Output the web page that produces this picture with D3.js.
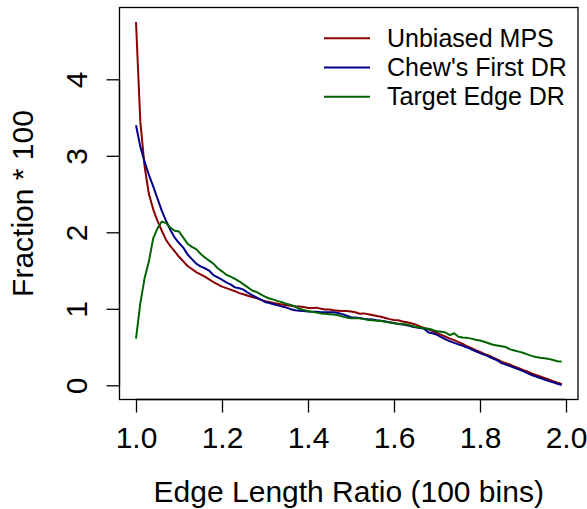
<!DOCTYPE html>
<html><head><meta charset="utf-8">
<script src="https://cdn.jsdelivr.net/npm/d3@7"></script>
<style>body{margin:0;background:#fff}text{font-family:"Liberation Sans",Arial,sans-serif}</style>
</head><body>
<svg id="c" width="587" height="509"></svg>
<script>
const bins = [1.00,1.01,1.02,1.03,1.04,1.05,1.06,1.07,1.08,1.09,1.10,1.11,1.12,1.13,1.14,1.15,1.16,1.17,1.18,1.19,1.20,1.21,1.22,1.23,1.24,1.25,1.26,1.27,1.28,1.29,1.30,1.31,1.32,1.33,1.34,1.35,1.36,1.37,1.38,1.39,1.40,1.41,1.42,1.43,1.44,1.45,1.46,1.47,1.48,1.49,1.50,1.51,1.52,1.53,1.54,1.55,1.56,1.57,1.58,1.59,1.60,1.61,1.62,1.63,1.64,1.65,1.66,1.67,1.68,1.69,1.70,1.71,1.72,1.73,1.74,1.75,1.76,1.77,1.78,1.79,1.80,1.81,1.82,1.83,1.84,1.85,1.86,1.87,1.88,1.89,1.90,1.91,1.92,1.93,1.94,1.95,1.96,1.97,1.98,1.99];
const unbiasedMPS = [4.75,3.45,2.86,2.50,2.30,2.15,2.02,1.90,1.82,1.75,1.68,1.62,1.56,1.52,1.48,1.45,1.42,1.385,1.35,1.32,1.29,1.27,1.25,1.23,1.205,1.19,1.17,1.155,1.14,1.12,1.10,1.09,1.075,1.065,1.055,1.045,1.04,1.03,1.03,1.025,1.01,1.01,1.015,1.00,0.99,0.99,0.98,0.975,0.97,0.97,0.965,0.955,0.935,0.94,0.93,0.92,0.905,0.895,0.88,0.865,0.855,0.85,0.835,0.825,0.81,0.795,0.77,0.75,0.73,0.71,0.685,0.66,0.635,0.61,0.59,0.565,0.54,0.51,0.485,0.46,0.435,0.41,0.39,0.365,0.34,0.31,0.29,0.27,0.245,0.225,0.20,0.18,0.155,0.135,0.115,0.095,0.075,0.055,0.035,0.017];
const chewsFirstDR = [3.40,3.12,2.92,2.75,2.60,2.44,2.28,2.15,2.03,1.93,1.86,1.80,1.71,1.65,1.59,1.555,1.53,1.50,1.44,1.41,1.38,1.345,1.32,1.28,1.27,1.25,1.21,1.18,1.15,1.12,1.09,1.075,1.06,1.045,1.03,1.015,0.995,0.98,0.975,0.97,0.965,0.96,0.96,0.955,0.955,0.955,0.955,0.945,0.93,0.91,0.89,0.885,0.88,0.87,0.865,0.86,0.85,0.845,0.835,0.825,0.815,0.80,0.795,0.785,0.77,0.76,0.75,0.74,0.69,0.68,0.66,0.63,0.60,0.575,0.555,0.535,0.515,0.495,0.47,0.445,0.42,0.40,0.375,0.35,0.325,0.29,0.27,0.25,0.23,0.21,0.185,0.16,0.135,0.115,0.095,0.075,0.055,0.04,0.02,0.004];
const targetEdgeDR = [0.61,1.07,1.40,1.62,1.92,2.05,2.14,2.12,2.06,2.02,2.01,1.93,1.85,1.81,1.78,1.72,1.67,1.63,1.59,1.53,1.49,1.445,1.42,1.39,1.36,1.32,1.28,1.24,1.22,1.19,1.16,1.135,1.12,1.10,1.085,1.065,1.05,1.03,1.00,0.985,0.97,0.96,0.95,0.94,0.935,0.93,0.925,0.915,0.90,0.885,0.875,0.875,0.875,0.865,0.855,0.85,0.845,0.84,0.83,0.82,0.81,0.805,0.80,0.795,0.78,0.765,0.755,0.745,0.74,0.725,0.705,0.70,0.69,0.655,0.68,0.635,0.625,0.62,0.61,0.595,0.585,0.57,0.55,0.53,0.52,0.51,0.50,0.47,0.455,0.44,0.425,0.405,0.385,0.37,0.36,0.355,0.345,0.33,0.315,0.31];
const seriesNames = ["Unbiased MPS","Chew's First DR","Target Edge DR"];
const seriesColors = ["#8B0000","#00008B","#006400"];
const xTicks = [1.0,1.2,1.4,1.6,1.8,2.0];
const yTicks = [0,1,2,3,4];

const svg = d3.select("#c");
const x = d3.scaleLinear().domain([1,2]).range([136,566]);
const y = d3.scaleLinear().domain([0,4]).range([385.3,79.3]);
const box = {l:119.5, t:7.5, r:578, b:399.5};

// box
svg.append("rect").attr("x",box.l).attr("y",box.t).attr("width",box.r-box.l).attr("height",box.b-box.t)
  .attr("fill","none").attr("stroke","#000").attr("stroke-width",1.3);

// x axis
const gx = svg.append("g").attr("transform",`translate(0,${box.b})`)
  .call(d3.axisBottom(x).tickValues(xTicks).tickSize(13).tickPadding(6).tickFormat(d3.format(".1f")));
gx.select(".domain").attr("d",`M${x(1)},0H${x(2)}`).attr("stroke-width",1.3);
gx.selectAll(".tick line").attr("stroke-width",1.3);
gx.selectAll("text").attr("font-size",30).attr("fill","#000").attr("font-family","Liberation Sans, Arial, sans-serif")
  .attr("dy",null).attr("y",48.5);

// y axis
const gy = svg.append("g").attr("transform",`translate(${box.l},0)`)
  .call(d3.axisLeft(y).tickValues(yTicks).tickSize(13).tickFormat(d3.format("d")));
gy.select(".domain").attr("d",`M0,${y(0)}V${y(4)}`).attr("stroke-width",1.3);
gy.selectAll(".tick line").attr("stroke-width",1.3);
gy.selectAll("text").attr("font-size",30).attr("fill","#000").attr("font-family","Liberation Sans, Arial, sans-serif")
  .attr("x",null).attr("dy",null).attr("text-anchor","middle")
  .attr("transform","translate(-32.5,0) rotate(-90)");

// axis titles
svg.append("text").attr("x",(box.l+box.r)/2).attr("y",501.5).attr("text-anchor","middle")
  .attr("font-size",30).text("Edge Length Ratio (100 bins)");
svg.append("text").attr("transform",`translate(33,${(box.t+box.b)/2}) rotate(-90)`).attr("text-anchor","middle")
  .attr("font-size",30).text("Fraction * 100");

// lines
const allSeries = [unbiasedMPS, chewsFirstDR, targetEdgeDR];
const line = d3.line().x((d,i)=>x(bins[i])).y(d=>y(d));
allSeries.forEach((s,k)=>{
  svg.append("path").datum(s).attr("d",line).attr("fill","none")
    .attr("stroke",seriesColors[k]).attr("stroke-width",2).attr("stroke-linejoin","round");
});

// legend
const lg = svg.append("g");
seriesNames.forEach((n,k)=>{
  const ly = 38.3 + k*29.2;
  lg.append("line").attr("x1",324).attr("x2",370).attr("y1",ly).attr("y2",ly)
    .attr("stroke",seriesColors[k]).attr("stroke-width",2);
  lg.append("text").attr("x",387).attr("y",ly).attr("dy","0.35em").attr("font-size",25).text(n);
});
</script>
</body></html>
